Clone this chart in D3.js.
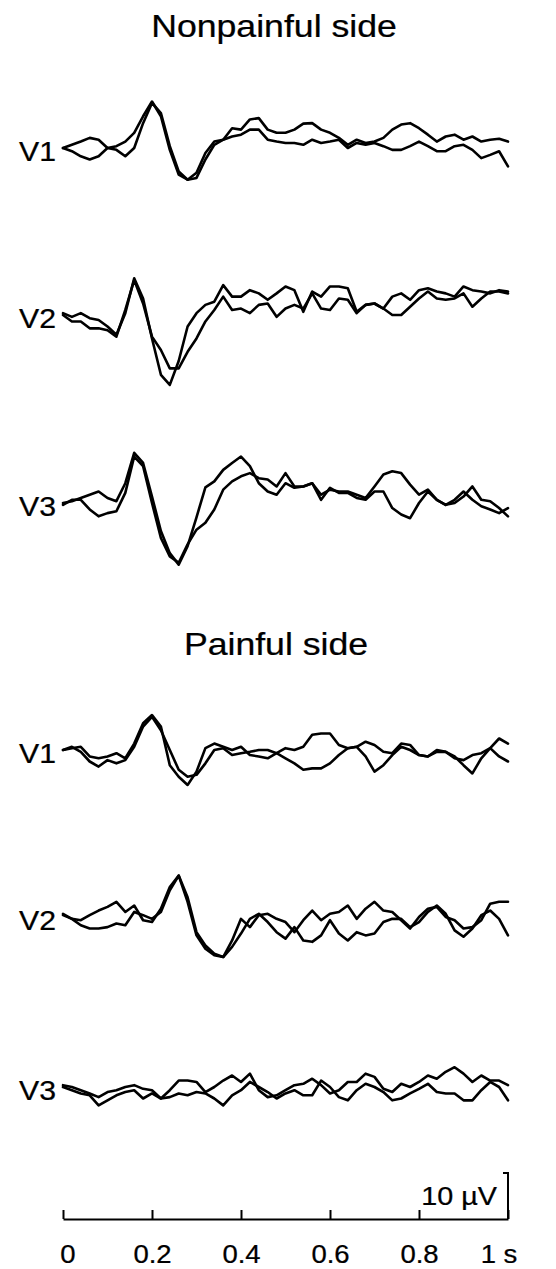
<!DOCTYPE html>
<html><head><meta charset="utf-8">
<script src="https://cdn.jsdelivr.net/npm/d3@7"></script>
<style>body{margin:0;background:#fff}</style>
</head><body><svg id="c" width="556" height="1269"></svg>
<script>
// sampling step of every trace (s)
const timeStep = 0.02;

// Nonpainful side (µV)
const npV1a = [0,0.7,1.4,2.2,1.8,0,0.4,1.4,3.3,6.9,10.1,6.9,-0.4,-5.8,-6.9,-5.4,-1.1,1.4,1.8,4.3,4.0,6.2,6.5,4.0,3.3,3.3,4.0,5.3,5.4,4.0,3.3,2.2,0.7,1.8,1.1,1.4,2.2,4.0,5.1,5.4,4.3,2.9,1.4,2.5,2.9,1.8,2.5,1.4,1.8,2.0,1.4];
const npV1b = [0,-0.7,-1.8,-2.5,-1.8,0,-0.4,-1.8,0,5.4,9.8,7.6,0.4,-5.1,-6.9,-6.5,-2.5,0.7,1.8,2.5,2.9,4.0,4.0,1.8,1.4,1.1,1.1,0.7,1.8,1.1,1.4,1.8,0,1.1,0.7,1.1,0.4,-0.4,-0.4,0.4,1.4,0.4,-0.7,-0.7,0.4,0.7,-0.4,-2.2,-1.5,-0.7,-4.0];
const npV2a = [0.4,-0.4,0.4,-0.7,-1.1,-2.5,-4.3,0.4,8.0,3.6,-5.1,-13.0,-15.2,-10.0,-2.5,0.4,2.2,2.9,6.5,4.0,4.0,5.4,4.7,3.3,4.7,6.2,5.4,0.7,5.1,4.0,6.2,6.2,5.8,0.7,2.2,2.5,1.4,4.0,4.7,3.3,5.4,5.8,5.1,4.7,4.0,6.2,5.4,5.1,4.7,5.4,5.1];
const npV2b = [0,-1.4,-1.4,-2.9,-2.9,-3.3,-4.7,1.1,7.6,2.5,-4.7,-7.6,-11.6,-11.6,-8.0,-5.1,-1.4,1.1,4.0,1.1,1.4,0.4,2.2,2.5,-0.4,1.4,2.2,1.4,4.7,1.4,1.1,3.6,3.3,0.4,2.2,2.5,1.4,0,0,1.8,3.6,5.1,3.6,3.3,3.6,4.7,1.8,3.6,5.1,5.1,4.7];
const npV3a = [0,0.4,1.1,1.8,2.5,1.1,0.4,4.3,10.9,8.7,1.4,-6.1,-10.9,-13.4,-9.4,-3.1,3.4,4.7,7.2,8.7,10.1,8.0,4.3,2.5,1.8,4.3,3.3,3.6,4.3,1.8,2.9,2.5,2.5,1.8,1.1,3.6,6.2,6.9,6.5,4.0,1.8,2.9,0.7,-0.4,0.7,2.5,0.7,-0.7,-1.4,-2.2,-1.1];
const npV3b = [-0.4,0.7,0.7,-1.4,-2.9,-2.2,-1.8,2.2,10.1,8.0,0,-7.6,-11.6,-13.0,-9.0,-5.8,-4.3,-1.4,2.9,4.7,5.8,6.5,5.4,5.1,3.6,6.5,3.6,3.6,4.3,0.7,3.3,2.2,2.2,1.1,0.7,2.5,2.5,-1.1,-2.5,-3.3,0,2.5,0.7,-0.4,0,1.4,3.6,0.7,0.4,-1.1,-2.9];

// Painful side (µV)
const pV1a = [0,0.4,0.7,-1.4,-1.8,-1.4,-0.7,-1.8,1.4,5.8,7.6,5.1,-3.3,-5.8,-7.6,-4.7,0.4,1.4,0.7,0,0.7,-1.1,-1.4,-1.8,-0.7,0.4,0,0.7,3.3,3.6,3.6,1.1,0.4,0.7,1.8,1.1,-0.4,-0.7,1.4,1.1,-1.1,-1.4,-0.4,-0.4,-1.8,-2.2,-1.1,-0.7,0.4,2.5,1.4];
const pV1b = [0,0.7,-0.4,-2.5,-3.6,-2.2,-2.9,-2.2,0.7,5.1,7.2,4.3,0,-4.3,-5.8,-5.4,-2.9,0,0.4,-1.1,-0.7,-0.4,0,0,-0.7,-1.8,-2.9,-4.3,-4.0,-4.0,-2.9,-1.1,0.4,0.7,-1.4,-4.7,-3.3,-1.1,0.7,0,-1.1,-1.4,0,-0.4,-1.4,-3.3,-5.1,-1.8,0.4,-1.4,-2.5];
const pV2a = [0.7,-0.4,-0.7,0.4,1.4,2.2,3.3,1.1,2.5,-0.7,-1.1,1.8,6.5,9.0,3.3,-4.0,-6.9,-8.3,-8.7,-5.1,-0.4,-2.2,0.4,0.7,-0.4,-1.1,-3.3,-0.7,1.4,-0.7,0.7,1.1,2.5,-0.4,1.8,3.3,1.4,1.1,-0.7,-2.5,0,1.8,2.2,0,-0.7,-2.5,-2.2,-0.7,2.9,3.3,3.3];
const pV2b = [0.4,-0.4,-1.8,-2.5,-2.5,-2.2,-1.4,-1.8,1.1,0.4,-0.4,1.1,5.8,9.0,4.3,-3.3,-6.2,-8.0,-8.7,-6.5,-3.6,-0.4,0.7,-1.1,-3.3,-4.7,-2.2,-5.1,-5.4,-4.0,-0.7,-3.6,-5.1,-3.3,-4.0,-3.6,-1.1,-0.4,-0.4,-2.2,-1.1,1.1,2.5,0.7,-2.9,-4.3,-2.5,0.4,1.4,-0.4,-4.0];
const pV3a = [0.4,0,-0.7,-1.4,-2.2,-1.1,-0.7,0,0.4,-0.4,-0.7,-2.5,-0.7,1.4,1.4,1.1,-1.1,0,1.4,2.5,1.1,2.9,-0.7,-2.2,-1.8,-0.7,0.4,0.7,1.8,0.4,-1.4,-0.7,1.1,1.1,2.9,2.2,-0.4,-1.1,0.7,0,1.1,2.5,1.8,3.3,4.3,2.9,1.1,2.5,1.4,1.4,0.4];
const pV3b = [0,-0.7,-1.4,-1.8,-4.0,-2.9,-1.8,-1.1,-0.7,-2.5,-1.4,-2.5,-2.2,-1.4,-1.8,-1.1,-1.4,-2.5,-4.0,-1.8,-0.7,1.1,0,-1.1,-2.5,-1.4,-0.7,-1.8,-1.8,1.4,0,-2.2,-2.9,-0.7,0.7,0,-1.1,-2.9,-2.5,-1.4,-0.4,0.7,-1.1,-1.4,-1.4,-2.9,-2.9,-0.7,1.1,0,-2.9];

const channelLabels = ["V1","V2","V3","V1","V2","V3"];
const groupTitles = ["Nonpainful side","Painful side"];
const tickValues = [0,0.2,0.4,0.6,0.8,1];
const tickLabels = ["0","0.2","0.4","0.6","0.8","1 s"];
const scaleBarValue = 10;
const scaleBarLabel = "10 µV";

const FONT = "'Liberation Sans', Arial, Helvetica, sans-serif";
const svg = d3.select("#c");
const x = d3.scaleLinear().domain([0,1]).range([63,508]);
const uvSpan = 46; // px per 10 µV

const traces = [[npV1a,npV1b],[npV2a,npV2b],[npV3a,npV3b],[pV1a,pV1b],[pV2a,pV2b],[pV3a,pV3b]];
const bases = [148,315,503,750,917,1087];

function stretchedText(txt, tx, ty, size, sx, anchor){
  return svg.append("text")
    .attr("transform", `translate(${tx},${ty}) scale(${sx},1)`)
    .attr("text-anchor", anchor)
    .attr("font-family", FONT)
    .attr("font-size", size)
    .attr("fill", "#000")
    .attr("stroke", "#000").attr("stroke-width", 0.25)
    .text(txt);
}

traces.forEach((pair, k) => {
  const base = bases[k];
  const y = d3.scaleLinear().domain([0, scaleBarValue]).range([base, base - uvSpan]);
  const line = d3.line().x((d,i) => x(i*timeStep)).y(d => y(d));
  pair.forEach(s => {
    svg.append("path").attr("d", line(s))
      .attr("fill","none").attr("stroke","#000")
      .attr("stroke-width",2.6).attr("stroke-linejoin","round").attr("stroke-linecap","round");
  });
  stretchedText(channelLabels[k], 56, base + 13, 27, 1.12, "end");
});

stretchedText(groupTitles[0], 274, 37, 31, 1.15, "middle");
stretchedText(groupTitles[1], 276, 655, 31, 1.15, "middle");

// time axis
const axisY = 1219;
const axis = d3.axisBottom(x).tickValues(tickValues)
  .tickFormat((d,i) => tickLabels[i]).tickSizeInner(-9).tickSizeOuter(0).tickPadding(26);
const g = svg.append("g").attr("transform", `translate(0,${axisY})`).call(axis);
g.attr("font-family", FONT).attr("font-size", 25);
g.select(".domain").attr("stroke","#000").attr("stroke-width",2);
g.selectAll(".tick line").attr("stroke","#000").attr("stroke-width",2);
g.selectAll(".tick text").attr("fill","#000").attr("stroke","#000").attr("stroke-width",0.25)
  .attr("x", (d,i) => i === 0 ? 4 : (i === tickLabels.length-1 ? 8 : 0))
  .attr("text-anchor", (d,i) => i === tickLabels.length-1 ? "end" : "middle")
  .attr("transform", "scale(1.1,1)");

// scale bar
const yBar = d3.scaleLinear().domain([0, scaleBarValue]).range([axisY, axisY - uvSpan]);
svg.append("path")
  .attr("d", `M${x(1)-5},${yBar(scaleBarValue)}H${x(1)}V${yBar(0)}`)
  .attr("fill","none").attr("stroke","#000").attr("stroke-width",2);
stretchedText(scaleBarLabel, 497, 1205, 25, 1.15, "end");
</script></body></html>
